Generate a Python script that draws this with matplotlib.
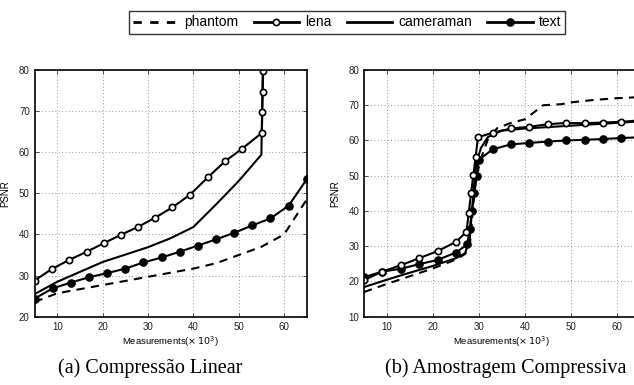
import matplotlib
matplotlib.use("Agg")
import matplotlib.pyplot as plt
from matplotlib.lines import Line2D

# (a) Compressão Linear
a_phantom_x = [5, 10, 20, 30, 40, 45, 50, 55, 60, 65]
a_phantom_y = [23.6, 25.7, 27.7, 29.7, 31.7, 33.0, 35.0, 37.0, 40.0, 48.5]

a_lena_x = [5, 8.8, 12.6, 16.5, 20.3, 24.0, 27.9, 31.6, 35.4, 39.3, 43.2, 47.0, 50.8, 55.1, 55.2, 55.3, 55.4]
a_lena_y = [28.8, 31.6, 33.8, 35.8, 37.9, 39.9, 41.9, 44.1, 46.6, 49.7, 53.9, 57.8, 60.9, 64.7, 69.7, 74.7, 79.8]

a_camera_x = [5, 10, 20, 30, 35, 40, 45, 50, 55, 55.3]
a_camera_y = [25.5, 28.5, 33.3, 36.9, 39.1, 41.8, 47.3, 53.0, 59.4, 80]

a_text_x = [5, 9, 13, 17, 21, 25, 29, 33, 37, 41, 45, 49, 53, 57, 61, 65]
a_text_y = [24.4, 26.9, 28.3, 29.6, 30.6, 31.7, 33.2, 34.4, 35.8, 37.3, 38.8, 40.4, 42.2, 43.9, 47.0, 53.4]

# (b) Amostragem Compressiva
b_phantom_x = [5, 10, 15, 20, 25, 27, 28, 28.5, 29, 29.5, 30.5, 32, 34, 37, 40, 42, 44, 48, 50, 55, 60, 65]
b_phantom_y = [17.0, 19.3, 21.5, 23.7, 26.2, 27.8, 30.0, 37.0, 45.0, 50.0, 55.0, 60.5, 63.5, 65.0, 66.0, 68.0, 70.0, 70.3, 70.8, 71.5, 72.0, 72.3]

b_lena_x = [5, 9, 13, 17, 21, 25, 27.3, 27.8, 28.3, 28.8, 29.3, 29.8, 33, 37, 41, 45, 49, 53, 57, 61, 65]
b_lena_y = [20.4, 22.8, 24.6, 26.6, 28.6, 31.2, 34.1, 39.5, 45.0, 50.2, 55.4, 60.9, 62.2, 63.4, 63.9, 64.6, 65.0, 64.9, 65.1, 65.3, 65.7]

b_camera_x = [5, 10, 15, 20, 25, 27, 28, 28.5, 29, 29.5, 30.5, 32, 35, 40, 50, 65]
b_camera_y = [18.4, 20.5, 22.5, 24.4, 26.6, 28.0, 32.0, 40.0, 48.0, 54.0, 58.0, 61.0, 62.8, 63.4, 64.2, 65.4]

b_text_x = [5, 9, 13, 17, 21, 25, 27.5, 28, 28.5, 29, 29.5, 30, 33, 37, 41, 45, 49, 53, 57, 61, 65]
b_text_y = [21.2, 22.8, 23.6, 24.9, 26.1, 28.2, 30.5, 35.0, 40.0, 45.0, 50.0, 54.5, 57.5, 58.9, 59.3, 59.7, 60.0, 60.2, 60.4, 60.7, 60.9]

plt.rcParams['font.family'] = ['Liberation Sans', 'DejaVu Sans']

fig = plt.figure(figsize=(6.34, 3.85), dpi=100)
ax1 = fig.add_axes([0.0546, 0.1774, 0.4292, 0.6408])
ax2 = fig.add_axes([0.5741, 0.1774, 0.4349, 0.6408])

lw = 1.5
open_style = dict(color='black', lw=lw, marker='o', markersize=4.5,
                  markerfacecolor='white', markeredgewidth=1.2)
fill_style = dict(color='black', lw=lw, marker='o', markersize=5.2,
                  markerfacecolor='black')


def draw(ax, ph, le, ca, te, ylim, yticks):
    ax.plot(ph[0], ph[1], color='black', lw=lw, ls=(0, (4, 3)))
    ax.plot(ca[0], ca[1], color='black', lw=lw)
    ax.plot(te[0], te[1], **fill_style)
    ax.plot(le[0], le[1], **open_style)
    ax.set_xlim(5, 65)
    ax.set_ylim(*ylim)
    ax.set_xticks([10, 20, 30, 40, 50, 60])
    ax.set_yticks(yticks)
    ax.grid(True, color='#777777', ls=(0, (1, 3)), lw=0.6)
    ax.tick_params(direction='in', labelsize=7, length=3, width=0.6,
                   top=True, right=True, colors='#333333', labelcolor='#222222')
    for s in ax.spines.values():
        s.set_linewidth(1.2)
    ax.set_ylabel('PSNR', fontsize=7, labelpad=6)
    ax.set_xlabel(r'Measurements($\times\,10^3$)', fontsize=6.8, labelpad=2)


draw(ax1, (a_phantom_x, a_phantom_y), (a_lena_x, a_lena_y),
     (a_camera_x, a_camera_y), (a_text_x, a_text_y), (20, 80), range(20, 81, 10))
draw(ax2, (b_phantom_x, b_phantom_y), (b_lena_x, b_lena_y),
     (b_camera_x, b_camera_y), (b_text_x, b_text_y), (10, 80), range(10, 81, 10))

handles = [
    Line2D([], [], color='black', lw=2, ls=(0, (3, 3))),
    Line2D([], [], **{**open_style, 'lw': 2}),
    Line2D([], [], color='black', lw=2),
    Line2D([], [], **{**fill_style, 'lw': 2}),
]
labels = ['phantom', 'lena', 'cameraman', 'text']
leg = fig.legend(handles, labels, loc='center', bbox_to_anchor=(0.547, 0.9416),
                 ncol=4, fontsize=10, frameon=True, fancybox=False,
                 handlelength=3.3, handletextpad=0.4, columnspacing=1.1,
                 borderpad=0.3)
leg.get_frame().set_edgecolor('black')
leg.get_frame().set_linewidth(1.0)

fig.text(0.2375, 0.031, '(a) Compressão Linear', family='Liberation Serif',
         fontsize=14.5, ha='center', va='baseline')
fig.text(0.797, 0.031, '(b) Amostragem Compressiva', family='Liberation Serif',
         fontsize=14.5, ha='center', va='baseline')

fig.savefig('out.png', dpi=100)
